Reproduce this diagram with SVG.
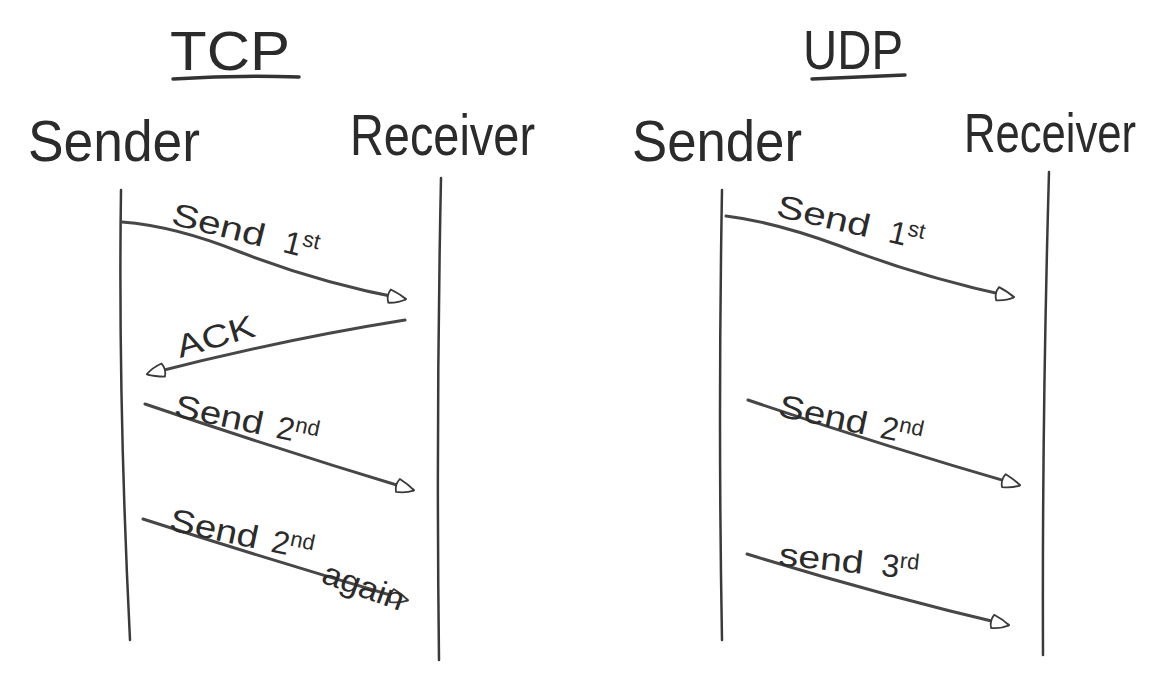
<svg xmlns="http://www.w3.org/2000/svg" width="1167" height="695" viewBox="0 0 1167 695">
<style>
.t{font-family:"Liberation Sans","DejaVu Sans",sans-serif;fill:#2b2b2b;}
.h{font-size:56px;}
.n{font-size:57px;}
.l{font-size:32px;}
.s{font-size:22px;}
.life{fill:none;stroke:#3a3a3a;stroke-width:2.5;stroke-linecap:round;}
.msg{fill:none;stroke:#474747;stroke-width:3;stroke-linecap:round;marker-end:url(#open);}
.ul{fill:none;stroke:#333;stroke-width:3.5;stroke-linecap:round;}
</style>
<defs>
<marker id="open" viewBox="0 0 20 16" refX="17" refY="8" markerWidth="7.5" markerHeight="6" orient="auto" markerUnits="strokeWidth">
<path d="M3,2 Q12,4.5 18,8 Q12,12.5 3,14 Q0,8 3,2 Z" fill="#fff" stroke="#3a3a3a" stroke-width="1.6" stroke-linejoin="round"/>
</marker>
</defs>
<rect width="1167" height="695" fill="#fff"/>

<g id="title-tcp">
<text class="t h" x="170" y="70" textLength="120" lengthAdjust="spacingAndGlyphs">TCP</text>
<path class="ul" d="M173,79 Q235,75 299,77"/>
</g>
<g id="title-udp">
<text class="t h" x="803" y="69" textLength="100" lengthAdjust="spacingAndGlyphs">UDP</text>
<path class="ul" d="M812,79 Q860,77 905,75"/>
</g>

<g id="tcp-sender">
<text class="t n" x="28" y="161" textLength="172" lengthAdjust="spacingAndGlyphs">Sender</text>
<path class="life" d="M121,190 Q118,400 130,640"/>
</g>
<g id="tcp-receiver">
<text class="t n" x="350" y="155" textLength="185" lengthAdjust="spacingAndGlyphs">Receiver</text>
<path class="life" d="M441,178 Q436,420 439,660"/>
</g>
<g id="udp-sender">
<text class="t n" x="632" y="161" textLength="170" lengthAdjust="spacingAndGlyphs">Sender</text>
<path class="life" d="M722,190 Q718,420 722,640"/>
</g>
<g id="udp-receiver">
<text class="t" font-size="44" transform="translate(964,152) scale(1,1.28)" x="0" y="0" textLength="172" lengthAdjust="spacingAndGlyphs">Receiver</text>
<path class="life" d="M1049,172 Q1042,420 1043,655"/>
</g>

<g id="connectors">
<path class="msg" d="M122,222 Q175,226 240,252 Q320,283 405,299"/>
<path class="msg" d="M405,320 Q280,340 148,374"/>
<path class="msg" d="M145,404 Q280,450 413,490"/>
<path class="msg" d="M143,519 Q270,560 407,600"/>
<path class="msg" d="M726,216 Q775,222 840,246 Q920,277 1013,297"/>
<path class="msg" d="M748,400 Q880,445 1019,485"/>
<path class="msg" d="M747,554 Q880,595 1008,625"/>
</g>

<g id="labels">
<g transform="translate(170,224) rotate(14)"><text class="t l" x="0" y="0"><tspan textLength="95" lengthAdjust="spacingAndGlyphs">Send</tspan><tspan dx="20">1</tspan><tspan class="s" dy="-11">st</tspan></text></g>
<g transform="translate(180,358) rotate(-16)"><text class="t l" x="0" y="0" textLength="80" lengthAdjust="spacingAndGlyphs">ACK</text></g>
<g transform="translate(173,416) rotate(12)"><text class="t l" x="0" y="0"><tspan textLength="90" lengthAdjust="spacingAndGlyphs">Send</tspan><tspan dx="14">2</tspan><tspan class="s" dy="-10">nd</tspan></text></g>
<g transform="translate(168,530) rotate(12)"><text class="t l" x="0" y="0"><tspan textLength="90" lengthAdjust="spacingAndGlyphs">Send</tspan><tspan dx="14">2</tspan><tspan class="s" dy="-10">nd</tspan></text></g>
<g transform="translate(320,582) rotate(20)"><text class="t l" x="0" y="0" textLength="85" lengthAdjust="spacingAndGlyphs">again</text></g>
<g transform="translate(775,216) rotate(13)"><text class="t l" x="0" y="0"><tspan textLength="95" lengthAdjust="spacingAndGlyphs">Send</tspan><tspan dx="20">1</tspan><tspan class="s" dy="-11">st</tspan></text></g>
<g transform="translate(777,416) rotate(12)"><text class="t l" x="0" y="0"><tspan textLength="90" lengthAdjust="spacingAndGlyphs">Send</tspan><tspan dx="14">2</tspan><tspan class="s" dy="-10">nd</tspan></text></g>
<g transform="translate(778,565) rotate(6)"><text class="t l" x="0" y="0"><tspan textLength="85" lengthAdjust="spacingAndGlyphs">send</tspan><tspan dx="18">3</tspan><tspan class="s" dy="-10">rd</tspan></text></g>
</g>
</svg>
